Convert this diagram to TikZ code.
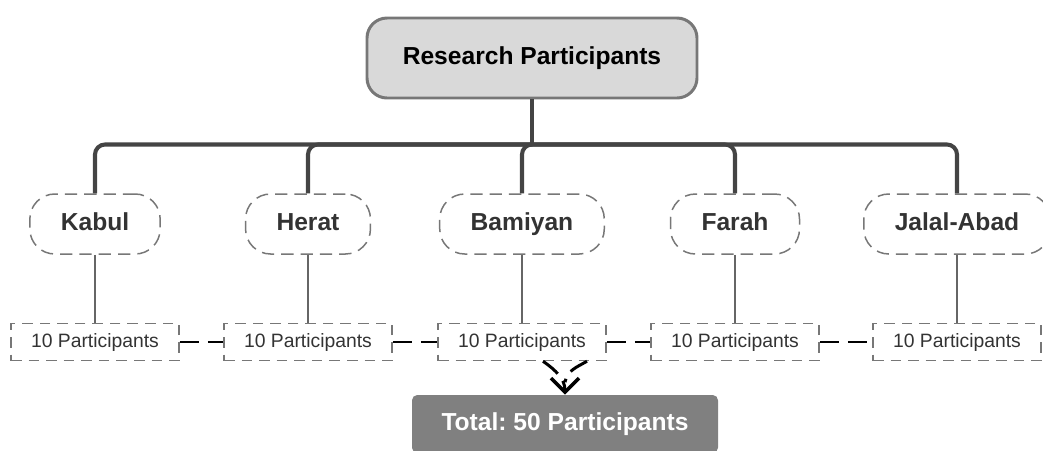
\documentclass[tikz,border=0pt]{standalone}
\usepackage{fontspec}
\setmainfont{Liberation Sans}
\usetikzlibrary{arrows.meta}

\definecolor{boxgray}{HTML}{D9D9D9}
\definecolor{edgegray}{HTML}{777777}
\definecolor{trunkgray}{HTML}{444444}
\definecolor{totalgray}{HTML}{808080}

\tikzset{
    root/.style={draw=edgegray, line width=1.7pt, fill=boxgray, rounded corners=0.4cm,
        minimum width=6.6cm, minimum height=1.6cm, font=\fontsize{14}{16}\selectfont\bfseries},
    city/.style={draw=edgegray, line width=0.85pt, dash pattern=on 7pt off 4pt, rounded corners=0.5cm,
        minimum height=1.2cm, inner xsep=0.62cm, text height=1.6ex, text depth=0.22ex,
        text=black!80, font=\fontsize{14}{16}\selectfont\bfseries},
    group/.style={draw=edgegray, line width=0.85pt, dash pattern=on 6pt off 4pt,
        minimum width=3.36cm, minimum height=0.74cm, text=black!80, font=\fontsize{11}{13}\selectfont},
    total/.style={fill=totalgray, text=white, rounded corners=3pt,
        minimum width=6.12cm, minimum height=1.16cm, font=\fontsize{14}{16}\selectfont\bfseries\frenchspacing},
    trunk/.style={draw=trunkgray, line width=2.3pt, rounded corners=0.2cm},
    twig/.style={draw=black!60, line width=0.7pt},
    link/.style={draw=black, line width=1.7pt, dash pattern=on 11pt off 5pt}
}

\begin{document}
\begin{tikzpicture}[>={Straight Barb[length=8pt,width=16pt,line width=2pt]}]
    \useasboundingbox (0,0) rectangle (20.86,-9);

    \node[root] (top) at (10.64,-1.16) {Research Participants};
    \coordinate (bus) at ([yshift=-0.9cm]top.south);
    \draw[trunk] (top.south) -- (bus);

    % one column per province
    \foreach \name/\x [count=\i] in {Kabul/1.9, Herat/6.16, Bamiyan/10.44, Farah/14.7, Jalal-Abad/19.14} {
        \node[city] (c\i) at (\x,-4.48) {\name};
        \node[group] (p\i) at (\x,-6.84) {10 Participants};
        \draw[trunk] (bus) -| (c\i.north);
        \draw[twig] (c\i) -- (p\i);
    }

    \foreach \a/\b in {1/2, 2/3, 3/4, 4/5}
        \draw[link] (p\a.east) -- (p\b.west);

    \node[total] (sum) at (11.3,-8.48) {Total: 50 Participants};
    \draw[link, ->] ([xshift=0.42cm]p3.south) to[out=-35, in=90] (sum.north);
    \draw[link] ([xshift=1.3cm]p3.south) to[out=-150, in=80] ([yshift=0.25cm]sum.north);
\end{tikzpicture}
\end{document}
